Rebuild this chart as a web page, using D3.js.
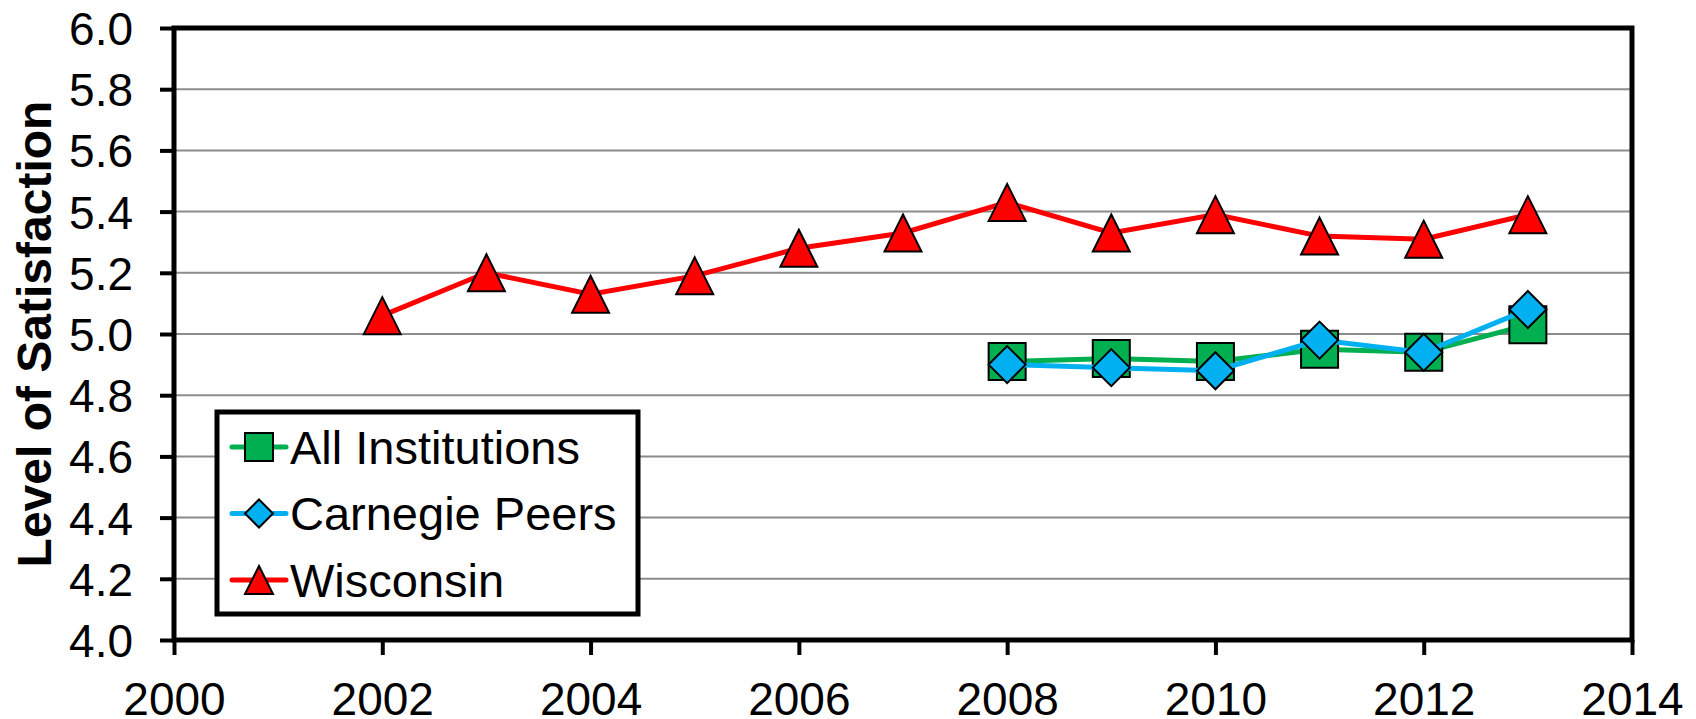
<!DOCTYPE html>
<html>
<head>
<meta charset="utf-8">
<script src="https://cdn.jsdelivr.net/npm/d3@7"></script>
<style>
  html, body { margin: 0; padding: 0; background: #fff; }
  svg text { font-family: "Liberation Sans", Arial, sans-serif; fill: #000; }
</style>
</head>
<body>
<svg id="chart"></svg>
<script>
const years = [2002, 2003, 2004, 2005, 2006, 2007, 2008, 2009, 2010, 2011, 2012, 2013];
const wisconsin = [5.06, 5.20, 5.13, 5.19, 5.28, 5.33, 5.43, 5.33, 5.39, 5.32, 5.31, 5.39];
const allYears = [2008, 2009, 2010, 2011, 2012, 2013];
const allInstitutions = [4.91, 4.92, 4.91, 4.95, 4.94, 5.03];
const carnegiePeers = [4.90, 4.89, 4.88, 4.98, 4.94, 5.08];
const xTicks = [2000, 2002, 2004, 2006, 2008, 2010, 2012, 2014];
const yTicks = [4.0, 4.2, 4.4, 4.6, 4.8, 5.0, 5.2, 5.4, 5.6, 5.8, 6.0];
const seriesNames = ['All Institutions', 'Carnegie Peers', 'Wisconsin'];

const width = 1696;
const height = 719;
const margin = {left: 174, right: 64, top: 28, bottom: 79};

const svg = d3.select('#chart')
  .attr('width', width)
  .attr('height', height);

const x = d3.scaleLinear().domain([2000, 2014]).range([margin.left, width - margin.right]);
const y = d3.scaleLinear().domain([4.0, 6.0]).range([height - margin.bottom, margin.top]);

// marker shapes, centred on their box like the spreadsheet ones
const shape = (kind, s) => {
  const h = s / 2;
  if (kind === 'square') return `M${-h},${-h}H${h}V${h}H${-h}Z`;
  if (kind === 'diamond') return `M0,${-h}L${h},0L0,${h}L${-h},0Z`;
  return `M0,${-h}L${h},${h}L${-h},${h}Z`;
};

// grid
svg.append('g')
  .selectAll('line')
  .data(yTicks.slice(1, -1))
  .enter()
  .append('line')
  .attr('x1', x(2000))
  .attr('x2', x(2014))
  .attr('y1', d => y(d))
  .attr('y2', d => y(d))
  .attr('stroke', '#8c8c8c')
  .attr('stroke-width', 2);

// axes
const xAxis = svg.append('g')
  .attr('transform', `translate(0,${y(4)})`)
  .call(d3.axisBottom(x).tickValues(xTicks).tickFormat(d3.format('d')).tickSize(15).tickPadding(27));

const yAxis = svg.append('g')
  .attr('transform', `translate(${x(2000)},0)`)
  .call(d3.axisLeft(y).tickValues(yTicks).tickFormat(d3.format('.1f')).tickSize(14).tickPadding(27));

[xAxis, yAxis].forEach(a => {
  a.select('.domain').remove();
  a.selectAll('.tick line').attr('stroke', '#000').attr('stroke-width', 4);
  a.selectAll('.tick text').style('font-size', '46px').attr('fill', '#000');
});
xAxis.selectAll('.tick text').attr('dy', '0.71em');
yAxis.selectAll('.tick text').attr('dy', '0.36em');

// plot frame
svg.append('rect')
  .attr('x', x(2000))
  .attr('y', y(6))
  .attr('width', x(2014) - x(2000))
  .attr('height', y(4) - y(6))
  .attr('fill', 'none')
  .attr('stroke', '#000')
  .attr('stroke-width', 5);

svg.append('text')
  .attr('transform', `translate(51,${(y(4) + y(6)) / 2}) rotate(-90)`)
  .attr('text-anchor', 'middle')
  .style('font-size', '48px')
  .style('font-weight', 'bold')
  .text('Level of Satisfaction');

const series = [
  {name: seriesNames[0], xs: allYears, vals: allInstitutions, color: '#00b050', kind: 'square'},
  {name: seriesNames[1], xs: allYears, vals: carnegiePeers, color: '#00b0f0', kind: 'diamond'},
  {name: seriesNames[2], xs: years, vals: wisconsin, color: '#ff0000', kind: 'triangle'}
];

const line = d3.line().x(d => x(d[0])).y(d => y(d[1]));

series.forEach(s => {
  const pts = s.xs.map((yr, i) => [yr, s.vals[i]]);
  const g = svg.append('g');
  g.append('path')
    .attr('d', line(pts))
    .attr('fill', 'none')
    .attr('stroke', s.color)
    .attr('stroke-width', 5);
  g.selectAll('path.m')
    .data(pts)
    .enter()
    .append('path')
    .attr('class', 'm')
    .attr('transform', d => `translate(${x(d[0])},${y(d[1])})`)
    .attr('d', shape(s.kind, 37))
    .attr('fill', s.color)
    .attr('stroke', '#000')
    .attr('stroke-width', 2);
});

// legend
const legend = svg.append('g').attr('transform', 'translate(217,412)');
legend.append('rect')
  .attr('width', 421)
  .attr('height', 202)
  .attr('fill', '#fff')
  .attr('stroke', '#000')
  .attr('stroke-width', 5);

const item = legend.selectAll('g.item')
  .data(series)
  .enter()
  .append('g')
  .attr('class', 'item')
  .attr('transform', (d, i) => `translate(0,${35 + i * 66.5})`);

item.append('line')
  .attr('x1', 15).attr('x2', 69)
  .attr('stroke', d => d.color)
  .attr('stroke-width', 5)
  .attr('stroke-linecap', 'round');
item.append('path')
  .attr('transform', 'translate(42,0)')
  .attr('d', d => shape(d.kind, 28))
  .attr('fill', d => d.color)
  .attr('stroke', '#000')
  .attr('stroke-width', 2);
item.append('text')
  .attr('x', 73)
  .attr('dy', '0.36em')
  .style('font-size', '47px')
  .text(d => d.name);
</script>
</body>
</html>
